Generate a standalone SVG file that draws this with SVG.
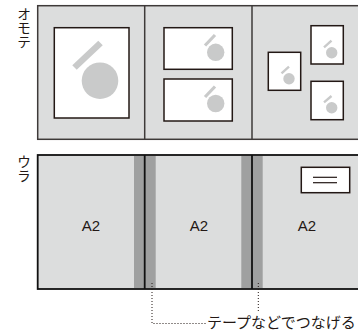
<svg xmlns="http://www.w3.org/2000/svg" width="358" height="333" viewBox="0 0 358 333">
<style>
.panel{fill:#dcdddd;stroke:#3e3a39;stroke-width:1.5}
.panelb{fill:#dcdddd;stroke:#111;stroke-width:1.8}
.frame{fill:#fff;stroke:#231815;stroke-width:1.5}
.sym{fill:#c9caca}
.bar{stroke:#c9caca;stroke-linecap:butt}
.band{fill:#9fa0a0}
.div{stroke:#111;stroke-width:1.8}
.lbl{font-family:"Noto Sans CJK JP","Noto Sans",sans-serif;font-size:14px;fill:#231815;writing-mode:vertical-rl}
.a2{font-family:"Liberation Sans",Arial,sans-serif;font-size:15px;fill:#231815;text-anchor:middle}
.dot{fill:none;stroke:#231815;stroke-width:1;stroke-dasharray:1 2}
</style>
<g id="label-omote">
<text class="lbl" x="24" y="7">オモテ</text>
</g>
<g id="label-ura">
<text class="lbl" x="24" y="155">ウラ</text>
</g>
<g id="omote">
<rect class="panel" x="37.7" y="5.7" width="330" height="133.6"/>
<line x1="144.7" y1="5.7" x2="144.7" y2="139.3" stroke="#3e3a39" stroke-width="1.5"/>
<line x1="252" y1="5.7" x2="252" y2="139.3" stroke="#3e3a39" stroke-width="1.5"/>
</g>
<g id="frame-large">
<rect class="frame" x="54.3" y="27.7" width="74.7" height="90.3"/>
<line class="bar" x1="74.5" y1="67.5" x2="100.5" y2="43" stroke-width="6.5"/>
<circle class="sym" cx="100" cy="80.7" r="18.3"/>
</g>
<g id="frame-mid-top">
<rect class="frame" x="164" y="27.7" width="68.3" height="41.6"/>
<line class="bar" x1="205" y1="45.5" x2="215" y2="35" stroke-width="3.2"/>
<circle class="sym" cx="215.7" cy="52.3" r="8.7"/>
</g>
<g id="frame-mid-bottom">
<rect class="frame" x="164" y="79" width="68.3" height="42"/>
<line class="bar" x1="205" y1="97" x2="215" y2="86.5" stroke-width="3.2"/>
<circle class="sym" cx="215.7" cy="103.5" r="8.7"/>
</g>
<g id="frame-small-left">
<rect class="frame" x="268.3" y="52.3" width="32.4" height="38"/>
<line class="bar" x1="281.5" y1="73.3" x2="289" y2="66.7" stroke-width="2.4"/>
<circle class="sym" cx="289" cy="78.7" r="5.7"/>
</g>
<g id="frame-small-top-right">
<rect class="frame" x="311" y="25.7" width="32.3" height="38.3"/>
<line class="bar" x1="324" y1="47.3" x2="331.5" y2="40.7" stroke-width="2.4"/>
<circle class="sym" cx="331.7" cy="52.7" r="5.7"/>
</g>
<g id="frame-small-bottom-right">
<rect class="frame" x="311" y="81.3" width="32.3" height="38.4"/>
<line class="bar" x1="324" y1="102.3" x2="331.5" y2="96" stroke-width="2.4"/>
<circle class="sym" cx="331.7" cy="107.7" r="5.7"/>
</g>
<g id="ura">
<rect class="panelb" x="37.7" y="155" width="330" height="134"/>
<rect class="band" x="134" y="156" width="21.7" height="132"/>
<rect class="band" x="241.3" y="156" width="21.4" height="132"/>
<line class="div" x1="144.7" y1="155" x2="144.7" y2="289"/>
<line class="div" x1="252" y1="155" x2="252" y2="289"/>
<text class="a2" x="91" y="230.5">A2</text>
<text class="a2" x="199" y="230.5">A2</text>
<text class="a2" x="307" y="230.5">A2</text>
</g>
<g id="label-box">
<rect fill="#fff" stroke="#231815" stroke-width="1.5" x="301.3" y="167.3" width="48.4" height="25.4"/>
<line x1="313" y1="177.3" x2="337" y2="177.3" stroke="#231815" stroke-width="1.2"/>
<line x1="313" y1="182.7" x2="337" y2="182.7" stroke="#231815" stroke-width="1.2"/>
</g>
<g id="connectors">
<path class="dot" d="M152,283 V323.5 H206"/>
<path class="dot" d="M258.3,283 V312"/>
</g>
<g id="note">
<text x="207" y="327.5" style="font-family:'Noto Sans CJK JP','Noto Sans',sans-serif;font-size:15px;fill:#231815">テープなどでつなげる</text>
</g>
</svg>
